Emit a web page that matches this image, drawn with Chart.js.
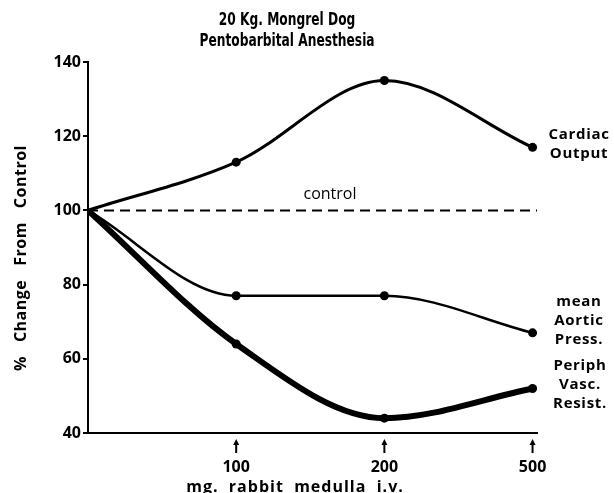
<!DOCTYPE html>
<html>
<head>
<meta charset="utf-8">
<script src="https://cdn.jsdelivr.net/npm/chart.js@4.4.1/dist/chart.umd.min.js"></script>
<style>
html,body{margin:0;padding:0;background:#fff;}
#wrap{width:614px;height:493px;position:relative;}
</style>
</head>
<body>
<div id="wrap"><canvas id="c" width="614" height="493"></canvas></div>
<script>
// ---- data ----
const xPositions = [0, 1, 2, 3];
const xTickLabels = ['', '100', '200', '500'];
const cardiacOutput = [100, 113, 135, 117];
const aorticPress = [100, 77, 77, 67];
const periphResist = [100, 64, 44, 52];
const controlLevel = [100, 100];
const controlX = [0, 3.03];
const yTicks = [40, 60, 80, 100, 120, 140];

const pts = (xs, ys) => ys.map((y, i) => ({x: xs[i], y}));
const FONT = '"Open Sans", "DejaVu Sans", sans-serif';
const NARROW = '"DejaVu Sans Condensed", "Liberation Sans Narrow", "Liberation Sans", sans-serif';

const annot = {
  id: 'annot',
  afterDraw(chart) {
    const ctx = chart.ctx;
    const xs = chart.scales.x, ys = chart.scales.y;
    ctx.save();
    ctx.fillStyle = '#000';
    ctx.strokeStyle = '#000';
    // title (condensed)
    ctx.save();
    ctx.font = 'bold 17px ' + NARROW;
    ctx.textAlign = 'center';
    ctx.textBaseline = 'middle';
    ctx.translate(287, 0);
    ctx.scale(0.8, 1);
    ctx.fillText('20 Kg. Mongrel Dog', 0, 21);
    ctx.fillText('Pentobarbital Anesthesia', 0, 42);
    ctx.restore();
    ctx.textBaseline = 'middle';
    // arrows below x axis
    for (let i = 1; i < xPositions.length; i++) {
      const px = xs.getPixelForValue(xPositions[i]);
      const top = ys.bottom + 6;
      ctx.lineWidth = 2;
      ctx.beginPath();
      ctx.moveTo(px, top + 3);
      ctx.lineTo(px, top + 14);
      ctx.stroke();
      ctx.beginPath();
      ctx.moveTo(px, top);
      ctx.lineTo(px - 3, top + 6);
      ctx.lineTo(px + 3, top + 6);
      ctx.closePath();
      ctx.fill();
    }
    // control label
    ctx.font = '16px ' + FONT;
    ctx.textAlign = 'center';
    ctx.fillText('control', 330, ys.getPixelForValue(100) - 16);
    // series labels
    ctx.font = 'bold 15px ' + FONT;
    ctx.letterSpacing = '0.7px';
    ctx.textAlign = 'center';
    const lab = (lines, cx, y0, dy) => lines.forEach((t, i) => ctx.fillText(t, cx, y0 + i * dy));
    lab(['Cardiac', 'Output'], 579, 135, 19);
    lab(['mean', 'Aortic', 'Press.'], 579, 302, 19);
    lab(['Periph', 'Vasc.', 'Resist.'], 580, 366, 19);
    // axis titles
    ctx.font = 'bold 16px ' + FONT;
    ctx.letterSpacing = '1px';
    ctx.fillText('mg.  rabbit  medulla  i.v.', 295, 487);
    ctx.translate(21, 258);
    ctx.rotate(-Math.PI / 2);
    ctx.letterSpacing = '0.5px';
    ctx.fillText('%   Change   From   Control', 0, 0);
    ctx.restore();
  }
};

new Chart(document.getElementById('c'), {
  type: 'line',
  data: {
    datasets: [
      {label: 'Cardiac Output', data: pts(xPositions, cardiacOutput), borderColor: '#000', backgroundColor: '#000', borderWidth: 3, pointRadius: [0,4.5,4.5,4.5], pointBorderWidth: 0, cubicInterpolationMode: 'monotone'},
      {label: 'mean Aortic Press.', data: pts(xPositions, aorticPress), borderColor: '#000', backgroundColor: '#000', borderWidth: 2.5, pointRadius: [0,4.5,4.5,4.5], pointBorderWidth: 0, cubicInterpolationMode: 'monotone'},
      {label: 'Periph Vasc. Resist.', data: pts(xPositions, periphResist), borderColor: '#000', backgroundColor: '#000', borderWidth: 6, pointRadius: [0,4.5,4.5,4.5], pointBorderWidth: 0, cubicInterpolationMode: 'monotone'},
      {label: 'control', data: pts(controlX, controlLevel), borderColor: '#000', borderWidth: 2, borderDash: [10, 6], pointRadius: 0}
    ]
  },
  options: {
    responsive: false,
    animation: false,
    layout: {padding: {left: 0, right: 77, top: 62, bottom: 0}},
    plugins: {legend: {display: false}, title: {display: false}, tooltip: {enabled: false}},
    scales: {
      x: {
        type: 'linear', min: 0, max: 3.03,
        afterBuildTicks(s) { s.ticks = xPositions.slice(1).map(v => ({value: v})); },
        afterFit(s) { s.height = 60; },
        ticks: {callback: (v) => xTickLabels[xPositions.indexOf(v)], color: '#000', font: {family: FONT, size: 16, weight: 'bold'}, padding: 25, maxRotation: 0, autoSkip: false},
        grid: {display: true, drawOnChartArea: false, drawTicks: false},
        border: {color: '#000', width: 2}
      },
      y: {
        min: 40, max: 140,
        afterBuildTicks(s) { s.ticks = yTicks.map(v => ({value: v})); },
        afterFit(s) { s.width = 88; },
        ticks: {color: '#000', font: {family: FONT, size: 16, weight: 'bold'}, padding: 2},
        grid: {drawOnChartArea: false, drawTicks: true, tickLength: 5, color: '#000', lineWidth: 2},
        border: {color: '#000', width: 2}
      }
    }
  },
  plugins: [annot]
});
</script>
</body>
</html>
